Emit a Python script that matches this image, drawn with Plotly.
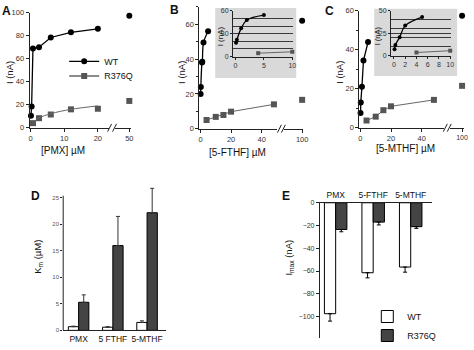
import plotly.graph_objects as go

W, H = 474, 350
FONT = "Liberation Sans, Arial, sans-serif"
WT_C = "#000000"
MUT_C = "#555555"
MUT_LINE = "#666666"
AX_C = "#222222"

# ---------------- data ----------------
# Panel A  (PMX)
a_wt_x = [0.1, 0.3, 0.7, 2.5, 6, 12, 20]
a_wt_y = [10.5, 18.5, 69, 70, 78.5, 83, 86]
a_mut_x = [0.7, 2.5, 6, 12, 20]
a_mut_y = [4, 8.3, 11.5, 16, 16.5]
a_fit_x = [0.5, 2.5, 6, 12, 20]
a_fit_y = [4, 8.5, 12.2, 16, 19]
a_hi_x = [50]
a_wt_hi = [97.5]
a_mut_hi = [23.3]

# Panel B  (5-FTHF)
b_wt_x = [0.1, 0.25, 1, 1.2, 2, 5]
b_wt_y = [20, 24, 38, 38.5, 49.5, 56]
b_mut_x = [4, 10, 15, 20, 48]
b_mut_y = [5, 6.8, 7.9, 9.8, 14]
b_hi_x = [100]
b_wt_hi = [62]
b_mut_hi = [16.6]
bi_wt_x = [0.1, 0.25, 1, 2, 5]
bi_wt_y = [18, 22, 37, 48, 54.5]
bi_mut_x = [4, 10]
bi_mut_y = [4.5, 6.3]

# Panel C  (5-MTHF)
c_wt_x = [0.1, 0.25, 1, 2, 5]
c_wt_y = [7.5, 13, 21, 34.5, 44]
c_mut_x = [4, 10, 15, 20, 48]
c_mut_y = [3.7, 5.7, 9, 11, 14.3]
c_hi_x = [100]
c_wt_hi = [57.5]
c_mut_hi = [21.5]
ci_wt_x = [0.1, 0.25, 1, 2, 5]
ci_wt_y = [7, 12, 20.5, 33.5, 43]
ci_mut_x = [4, 10]
ci_mut_y = [3.5, 5.5]

# Panel D  (Km)
d_cats = ["PMX", "5 FTHF", "5-MTHF"]
d_wt = [0.7, 0.6, 1.5]
d_wt_err = [0.1, 0.1, 0.3]
d_mut = [5.3, 16, 22.2]
d_mut_err = [1.4, 5.5, 4.6]

# Panel E  (Imax)
e_cats = ["PMX", "5-FTHF", "5-MTHF"]
e_wt = [-97.5, -61.5, -56.5]
e_wt_err = [6.5, 4.5, 4.5]
e_mut = [-23.5, -17, -21]
e_mut_err = [2, 2.5, 1.5]

names = ["WT", "R376Q"]


# ---------------- helpers ----------------
def xd(a, b):
    return [a / W, b / W]


def yd(top, bottom):
    return [1 - bottom / H, 1 - top / H]


def px(x):
    return x / W


def py(y):
    return 1 - y / H


fig = go.Figure()
MS = 6
MSI = 4


def wt_trace(x, y, xa, ya, size=MS, mode="lines+markers", shape="linear"):
    fig.add_trace(go.Scatter(
        x=x, y=y, xaxis=xa, yaxis=ya, mode=mode, showlegend=False,
        line=dict(color=WT_C, width=1.3, shape=shape),
        marker=dict(symbol="circle", size=size, color=WT_C),
        cliponaxis=False, hoverinfo="skip"))


def mut_trace(x, y, xa, ya, size=MS, mode="lines+markers"):
    fig.add_trace(go.Scatter(
        x=x, y=y, xaxis=xa, yaxis=ya, mode=mode, showlegend=False,
        line=dict(color=MUT_LINE, width=1),
        marker=dict(symbol="square", size=size, color=MUT_C),
        cliponaxis=False, hoverinfo="skip"))


# Panel A
wt_trace(a_wt_x, a_wt_y, "x", "y")
mut_trace(a_mut_x, a_mut_y, "x", "y", mode="markers")
fig.add_trace(go.Scatter(x=a_fit_x, y=a_fit_y, xaxis="x", yaxis="y", mode="lines",
                         line=dict(color=MUT_LINE, width=1, shape="spline"),
                         showlegend=False, hoverinfo="skip"))
wt_trace(a_hi_x, a_wt_hi, "x2", "y", mode="markers")
mut_trace(a_hi_x, a_mut_hi, "x2", "y", mode="markers")
# legend entries for panel A (each in its own legend box for tight spacing)
fig.add_trace(go.Scatter(x=[None], y=[None], xaxis="x", yaxis="y", mode="lines+markers",
                         name=names[0], line=dict(color=WT_C, width=1.3),
                         marker=dict(symbol="circle", size=MS, color=WT_C), legend="legend"))
fig.add_trace(go.Scatter(x=[None], y=[None], xaxis="x", yaxis="y", mode="lines+markers",
                         name=names[1], line=dict(color=MUT_LINE, width=1.3),
                         marker=dict(symbol="square", size=MS, color=MUT_C), legend="legend3"))

# Panel B
wt_trace(b_wt_x, b_wt_y, "x3", "y2", shape="spline")
mut_trace(b_mut_x, b_mut_y, "x3", "y2")
wt_trace(b_hi_x, b_wt_hi, "x4", "y2", mode="markers")
mut_trace(b_hi_x, b_mut_hi, "x4", "y2", mode="markers")
wt_trace(bi_wt_x, bi_wt_y, "x5", "y3", size=MSI, shape="spline")
mut_trace(bi_mut_x, bi_mut_y, "x5", "y3", size=MSI)

# Panel C
wt_trace(c_wt_x, c_wt_y, "x6", "y4")
mut_trace(c_mut_x, c_mut_y, "x6", "y4")
wt_trace(c_hi_x, c_wt_hi, "x7", "y4", mode="markers")
mut_trace(c_hi_x, c_mut_hi, "x7", "y4", mode="markers")
wt_trace(ci_wt_x, ci_wt_y, "x8", "y5", size=MSI, shape="spline")
mut_trace(ci_mut_x, ci_mut_y, "x8", "y5", size=MSI)

# Panel D
fig.add_trace(go.Bar(x=d_cats, y=d_wt, xaxis="x9", yaxis="y6", showlegend=False,
                     marker=dict(color="white", line=dict(color="#000", width=1)),
                     error_y=dict(type="data", array=d_wt_err, arrayminus=[0] * 3, symmetric=False,
                                  color="#333", thickness=1, width=2), name=names[0]))
fig.add_trace(go.Bar(x=d_cats, y=d_mut, xaxis="x9", yaxis="y6", showlegend=False,
                     marker=dict(color="#444444", line=dict(color="#000", width=1)),
                     error_y=dict(type="data", array=d_mut_err, arrayminus=[0] * 3, symmetric=False,
                                  color="#333", thickness=1, width=2), name=names[1]))

# Panel E
fig.add_trace(go.Bar(x=e_cats, y=e_wt, xaxis="x10", yaxis="y7", name=names[0], legend="legend2",
                     marker=dict(color="white", line=dict(color="#000", width=1)),
                     error_y=dict(type="data", array=[0] * 3, arrayminus=e_wt_err, symmetric=False,
                                  color="#000", thickness=1, width=2)))
fig.add_trace(go.Bar(x=e_cats, y=e_mut, xaxis="x10", yaxis="y7", name=names[1], legend="legend2",
                     marker=dict(color="#444444", line=dict(color="#000", width=1)),
                     error_y=dict(type="data", array=[0] * 3, arrayminus=e_mut_err, symmetric=False,
                                  color="#000", thickness=1, width=2)))

# ---------------- axes ----------------
tickf = dict(family=FONT, size=7.5, color="#333")
small = dict(family=FONT, size=7, color="#333")


def ax(domain, rng, anchor, **kw):
    d = dict(domain=domain, range=rng, anchor=anchor, showline=True, linecolor=AX_C,
             linewidth=1, ticks="outside", ticklen=3, tickcolor=AX_C, tickwidth=1,
             showgrid=False, zeroline=False, tickfont=tickf, fixedrange=True)
    d.update(kw)
    return d


lay = dict(
    # Panel A
    xaxis=ax(xd(29, 109), [-0.29, 23.2], "y", tickvals=[0, 10, 20]),
    xaxis2=ax(xd(115, 132), [45.6, 50.6], "y", tickvals=[50]),
    yaxis=ax(yd(9, 127), [0, 100], "x", tickvals=[0, 20, 40, 60, 80, 100]),
    # Panel B
    xaxis3=ax(xd(201, 280), [-0.65, 50.3], "y2", tickvals=[0, 20, 40]),
    xaxis4=ax(xd(287, 306), [88.4, 100.65], "y2", tickvals=[100]),
    yaxis2=ax(yd(3, 128), [0, 70], "x3", tickvals=[0, 20, 40, 60],
              minor=dict(dtick=10, ticks="outside", ticklen=2, tickcolor=AX_C)),
    xaxis5=ax(xd(235, 296), [-0.43, 10.17], "y3", tickvals=[0, 5, 10], tickfont=small, ticklen=2),
    yaxis3=ax(yd(7, 54), [0, 60], "x5", tickvals=[0, 30, 60], tickfont=small, ticklen=2,
              showgrid=True, gridcolor="#3a3a3a", gridwidth=1,
              minor=dict(tickvals=[10, 20, 40, 50], showgrid=True, gridcolor="#3a3a3a", gridwidth=1)),
    # Panel C
    xaxis6=ax(xd(363, 449), [-0.65, 54.8], "y4", tickvals=[0, 20, 40]),
    xaxis7=ax(xd(455, 469), [92.3, 101.3], "y4", tickvals=[100],
              tickfont=dict(family=FONT, size=7, color="#333")),
    yaxis4=ax(yd(7, 127), [0, 60], "x6", tickvals=[0, 20, 40, 60],
              minor=dict(dtick=10, ticks="outside", ticklen=2, tickcolor=AX_C)),
    xaxis8=ax(xd(395, 456), [-0.53, 10.18], "y5", tickvals=[0, 2, 4, 6, 8, 10], tickfont=small, ticklen=2),
    yaxis5=ax(yd(7, 53), [0, 50], "x8", tickvals=[0, 25, 50], tickfont=small, ticklen=2,
              showgrid=True, gridcolor="#3a3a3a", gridwidth=1,
              minor=dict(tickvals=[10, 20, 30, 40], showgrid=True, gridcolor="#3a3a3a", gridwidth=1)),
    # Panel D
    xaxis9=ax(xd(63, 167), [-0.45, 2.55], "y6", ticks="", type="category",
              tickfont=dict(family=FONT, size=8.5, color="#111")),
    yaxis6=ax(yd(185.4, 335), [0, 27.5], "x9", showline=False, tickvals=[0, 5, 10, 15, 20, 25],
              tickfont=dict(family=FONT, size=6, color="#555"), ticklen=2),
    # Panel E
    xaxis10=ax(xd(323, 437), [-0.42, 2.58], "y7", ticks="", type="category", side="top",
               tickfont=dict(family=FONT, size=8.5, color="#111")),
    yaxis7=ax(yd(204, 343), [-119, 0], "x10", tickvals=[0, -20, -40, -60, -80, -100],
              tickfont=dict(family=FONT, size=7, color="#333")),
)

fig.update_layout(**lay)

# ---------------- shapes ----------------
shapes = []
# inset backgrounds
shapes.append(dict(type="rect", xref="paper", yref="paper", x0=px(217), x1=px(299), y0=py(76), y1=py(4),
                   fillcolor="#d9d9d9", line=dict(width=0), layer="below"))
shapes.append(dict(type="rect", xref="paper", yref="paper", x0=px(378), x1=px(462), y0=py(74), y1=py(5),
                   fillcolor="#d9d9d9", line=dict(width=0), layer="below"))
# axis-break marks
for (xa, ya) in [(108, 127), (113, 127), (280, 128), (284, 128), (448, 127), (452, 127)]:
    shapes.append(dict(type="line", xref="paper", yref="paper", x0=px(xa), y0=py(ya + 4),
                       x1=px(xa + 4), y1=py(ya - 4), line=dict(color=AX_C, width=1)))
# D y-axis line (stops at 25)
shapes.append(dict(type="line", xref="x9 domain", yref="y6", x0=0, x1=0, y0=0, y1=25.4,
                   line=dict(color=AX_C, width=1)))
fig.update_layout(shapes=shapes)

# ---------------- text ----------------
ann = []


def text(x, y, s, size=9, bold=False, angle=0, color="#111", xanchor="center"):
    ann.append(dict(x=px(x), y=py(y), xref="paper", yref="paper", text=(f"<b>{s}</b>" if bold else s),
                    showarrow=False, textangle=angle, xanchor=xanchor, yanchor="middle",
                    font=dict(family=FONT, size=size, color=color)))


text(6, 7, "A", 12, True)
text(176, 6, "B", 12, True)
text(333, 7, "C", 12, True)
text(35, 197, "D", 12, True)
text(289, 197, "E", 12, True)

text(8, 70, "I (nA)", 9.5, angle=-90)
text(183, 70, "I (nA)", 9.5, angle=-90)
text(343, 70, "I (nA)", 9.5, angle=-90)
text(222, 33, "I (nA)", 8, angle=-90)
text(381, 33, "I (nA)", 7.5, angle=-90)

text(63, 150, "[PMX] µM", 10)
text(240, 152, "[5-FTHF] µM", 10)
text(410, 148, "[5-MTHF] µM", 10)

text(38, 260, "K<sub>m</sub> (µM)", 9.5, angle=-90)
text(292, 260, "I<sub>max</sub> (nA)", 9.5, angle=-90)
fig.update_layout(annotations=ann)

leg_common = dict(xanchor="left", yanchor="top", bgcolor="rgba(0,0,0,0)",
                  font=dict(family=FONT, size=9, color="#111"), itemwidth=30, tracegroupgap=0)
fig.update_layout(
    width=W, height=H, margin=dict(l=0, r=0, t=0, b=0),
    paper_bgcolor="white", plot_bgcolor="rgba(0,0,0,0)",
    barmode="group", bargap=0.4, bargroupgap=0,
    font=dict(family=FONT, size=9, color="#111"),
    legend=dict(x=px(64), y=py(44), **leg_common),
    legend3=dict(x=px(64), y=py(59), **leg_common),
    legend2=dict(x=px(371), y=py(306), **leg_common),
)

fig.write_html("out.html", config=dict(displayModeBar=False, staticPlot=True),
               post_script="document.body.style.margin='0';document.body.style.padding='0';")
